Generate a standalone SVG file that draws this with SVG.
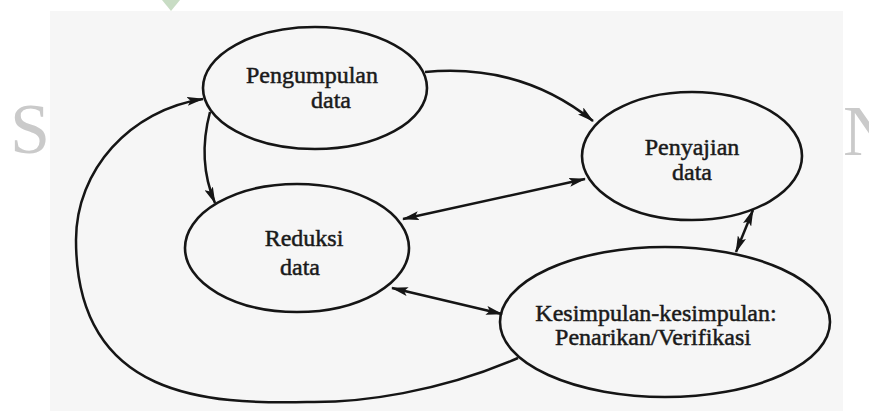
<svg xmlns="http://www.w3.org/2000/svg" width="869" height="411" viewBox="0 0 869 411">
  <style>
    .node ellipse { fill: none; stroke: #151515; stroke-width: 2.6; }
    .node text { font-family: "Liberation Serif", "Times New Roman", serif; font-size: 24px; fill: #1a1a1a; text-anchor: middle; stroke: #1a1a1a; stroke-width: 0.5; }
    .conn path { fill: none; stroke: #151515; stroke-width: 2.5; }
    .wm { font-family: "Liberation Serif", "Times New Roman", serif; font-size: 72px; fill: #cacaca; }
  </style>
  <defs>
    <marker id="ah" viewBox="0 0 17 9" refX="16" refY="4.5" markerWidth="17" markerHeight="9" markerUnits="userSpaceOnUse" orient="auto-start-reverse">
      <path d="M0,0 L17,4.5 L0,9 L3.5,4.5 Z" fill="#151515"/>
    </marker>
  </defs>

  <rect x="0" y="0" width="869" height="411" fill="#ffffff"/>
  <rect x="50" y="11" width="793" height="400" fill="#f6f6f6"/>
  <polygon points="162,0 180,0 171,11" fill="#c8dcc4"/>
  <text class="wm" x="10" y="153">S</text>
  <text class="wm" x="843" y="155">N</text>

  <g id="pengumpulan" class="node">
    <ellipse cx="315" cy="88" rx="112" ry="61"/>
    <text x="312" y="83">Pengumpulan</text>
    <text x="331" y="108">data</text>
  </g>
  <g id="penyajian" class="node">
    <ellipse cx="692" cy="156" rx="110" ry="64"/>
    <text x="692" y="155">Penyajian</text>
    <text x="692" y="180">data</text>
  </g>
  <g id="reduksi" class="node">
    <ellipse cx="297" cy="248" rx="112" ry="64"/>
    <text x="304" y="246">Reduksi</text>
    <text x="300" y="275">data</text>
  </g>
  <g id="kesimpulan" class="node">
    <ellipse cx="665" cy="322" rx="165" ry="75"/>
    <text x="656" y="321">Kesimpulan-kesimpulan:</text>
    <text x="653" y="345">Penarikan/Verifikasi</text>
  </g>

  <g id="connectors" class="conn">
    <path d="M425,72 Q521,63 593,121" marker-end="url(#ah)"/>
    <path d="M210,112 Q197,161 215,203" marker-end="url(#ah)"/>
    <path d="M403,219 L585,179" marker-start="url(#ah)" marker-end="url(#ah)"/>
    <path d="M392,288 L502,314" marker-start="url(#ah)" marker-end="url(#ah)"/>
    <path d="M753,210 L736,252" marker-start="url(#ah)" marker-end="url(#ah)"/>
    <path d="M518,358 C440,392 360,403 307,402 C210,404 76,400 76,240 C76,170 130,110 203,99" marker-end="url(#ah)"/>
  </g>
</svg>
